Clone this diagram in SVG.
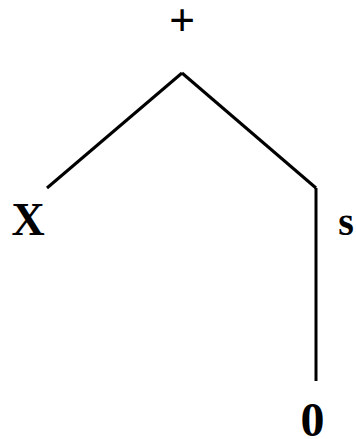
<svg xmlns="http://www.w3.org/2000/svg" width="356" height="439" viewBox="0 0 356 439">
<style>
.lbl{font-family:"Liberation Serif",serif;font-weight:bold;font-size:48px;fill:#000;text-anchor:middle}
.edge{stroke:#000;stroke-width:3;fill:none}
</style>
<rect width="356" height="439" fill="#fff"/>
<g id="connectors">
<line class="edge" x1="182" y1="73" x2="47" y2="188"/>
<line class="edge" x1="182" y1="73" x2="316" y2="188"/>
<line class="edge" x1="316" y1="188" x2="316" y2="381"/>
</g>
<g id="node-plus"><text class="lbl" x="182" y="36" style="font-size:46px">+</text></g>
<g id="node-x"><text class="lbl" x="28" y="235" style="font-size:46px">X</text></g>
<g id="node-s"><text class="lbl" x="346" y="235" style="font-size:40px">s</text></g>
<g id="node-0"><text class="lbl" x="312.5" y="436">0</text></g>
</svg>
